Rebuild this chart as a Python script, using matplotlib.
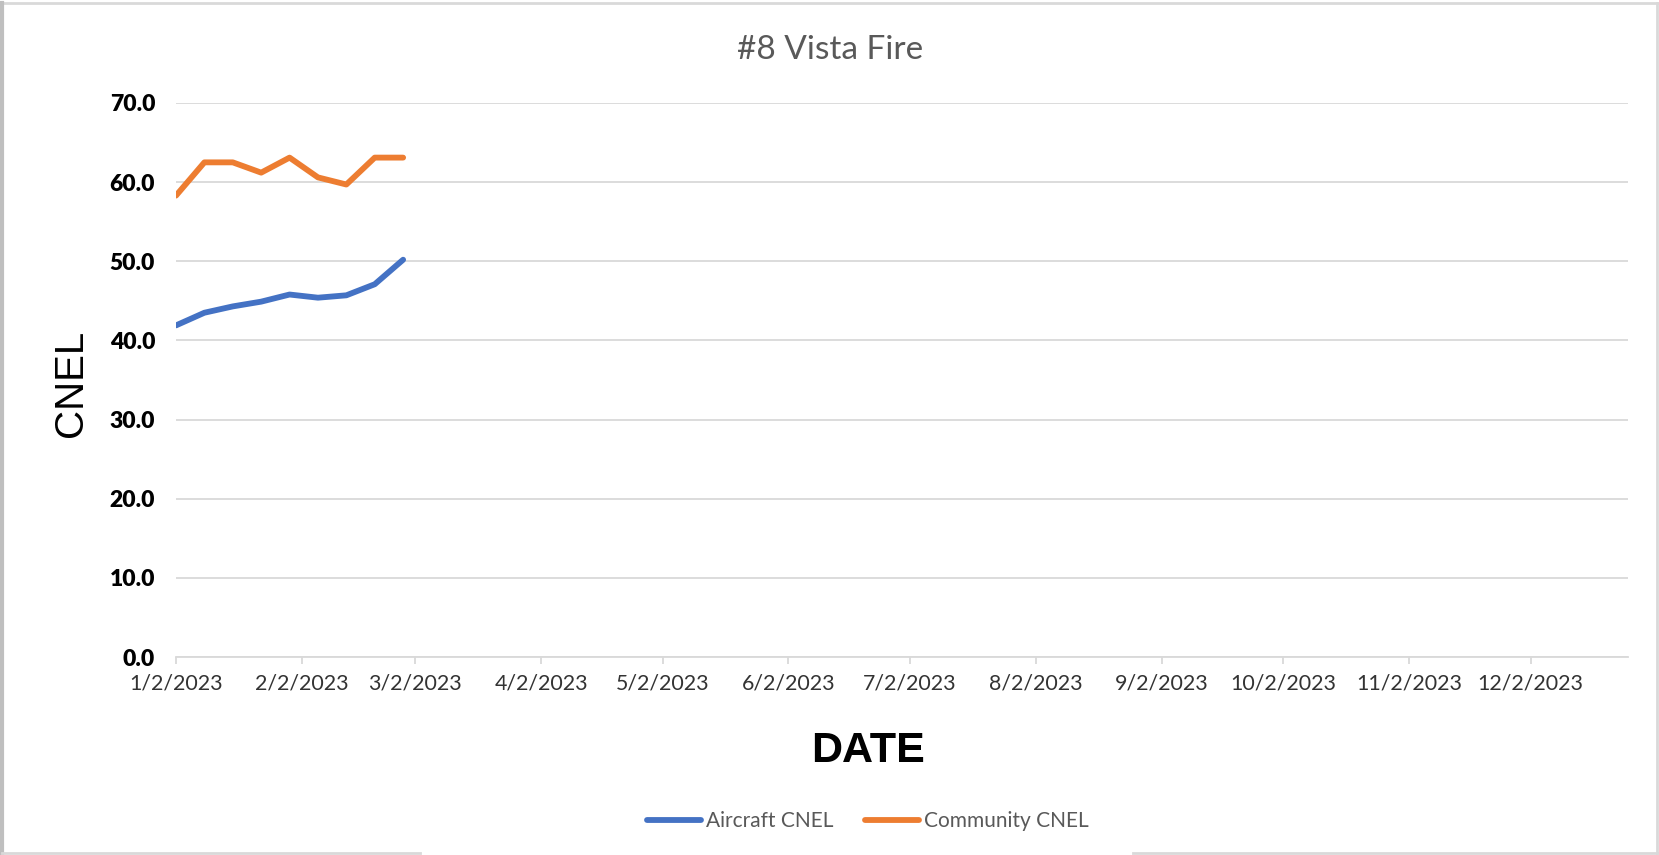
import matplotlib.pyplot as plt
import matplotlib.dates as mdates
import numpy as np
import pandas as pd
from matplotlib.lines import Line2D

# weekly readings, Jan - Feb 2023
dates = ["2023-01-02", "2023-01-09", "2023-01-16", "2023-01-23", "2023-01-30",
         "2023-02-06", "2023-02-13", "2023-02-20", "2023-02-27"]
aircraft_cnel = [41.9, 43.5, 44.3, 44.9, 45.8, 45.4, 45.7, 47.1, 50.2]
community_cnel = [58.3, 62.5, 62.5, 61.2, 63.1, 60.6, 59.7, 63.1, 63.1]

tick_dates = ["2023-%02d-02" % m for m in range(1, 13)]
y_ticks = [0, 10, 20, 30, 40, 50, 60, 70]

W, H = 1659, 855
fig = plt.figure(figsize=(W / 100, H / 100), dpi=100)
fig.patch.set_facecolor("white")

# axes placed to match plot area pixels
left, right, top, bottom = 176, 1628, 103, 657
ax = fig.add_axes([left / W, 1 - bottom / H, (right - left) / W, (bottom - top) / H])

x = pd.to_datetime(dates)
ax.plot(x, aircraft_cnel, color="#4472C4", lw=4.2, solid_capstyle="round",
        solid_joinstyle="round", label="Aircraft CNEL", zorder=3)
ax.plot(x, community_cnel, color="#ED7D31", lw=4.2, solid_capstyle="round",
        solid_joinstyle="round", label="Community CNEL", zorder=3)

ax.set_ylim(0, 70)
ax.set_yticks(y_ticks)
ax.set_yticklabels(["%.1f" % v for v in y_ticks], fontfamily="Lato",
                   fontweight="heavy", fontsize=16.5, color="black")
ax.set_xlim(pd.Timestamp("2023-01-02"), pd.Timestamp("2023-12-26"))
ticks = pd.to_datetime(tick_dates)
ax.set_xticks(ticks)
ax.set_xticklabels(["%d/%d/%d" % (t.month, t.day, t.year) for t in ticks],
                   fontfamily="Lato", fontsize=15.4, color="#333333")

ax.grid(axis="y", color="#D9D9D9", lw=1.3)
ax.set_axisbelow(True)
for s in ["top", "right", "left"]:
    ax.spines[s].set_visible(False)
ax.spines["bottom"].set_color("#D9D9D9")
ax.spines["bottom"].set_linewidth(1.3)
ax.tick_params(axis="y", length=0, pad=15)
ax.tick_params(axis="x", length=5, width=1.3, color="#D9D9D9", pad=7)

fig.text(830 / W, 1 - 50 / H, "#8 Vista Fire", ha="center", va="center",
         fontfamily="Lato", fontsize=24, color="#595959")
fig.text(71 / W, 1 - 383 / H, "CNEL", rotation=90, ha="center", va="center",
         fontfamily="Liberation Sans", fontsize=29, color="black")
fig.text(868 / W, 1 - 751 / H, "DATE", ha="center", va="center",
         fontfamily="Liberation Sans", fontweight="bold", fontsize=31, color="black")

leg = fig.legend(loc="center", bbox_to_anchor=(868 / W, 1 - 821 / H), ncol=2,
                 frameon=False, prop={"family": "Lato", "size": 15},
                 handlelength=2.6, handletextpad=0.25, columnspacing=1.5)
for t in leg.get_texts():
    t.set_color("#595959")

# outer chart border
bc = "#D9D9D9"
fig.add_artist(Line2D([2 / W, 1657 / W], [1 - 3 / H, 1 - 3 / H], color=bc, lw=2))
fig.add_artist(Line2D([1657 / W, 1657 / W], [1 - 3 / H, 1 - 853 / H], color=bc, lw=2))
fig.add_artist(Line2D([2 / W, 2 / W], [1 - 3 / H, 1 - 853 / H], color="#BFBFBF", lw=3))
fig.add_artist(Line2D([2 / W, 420 / W], [1 - 853 / H, 1 - 853 / H], color=bc, lw=2))
fig.add_artist(Line2D([1133 / W, 1657 / W], [1 - 853 / H, 1 - 853 / H], color=bc, lw=2))

fig.savefig("out.png", dpi=100)
